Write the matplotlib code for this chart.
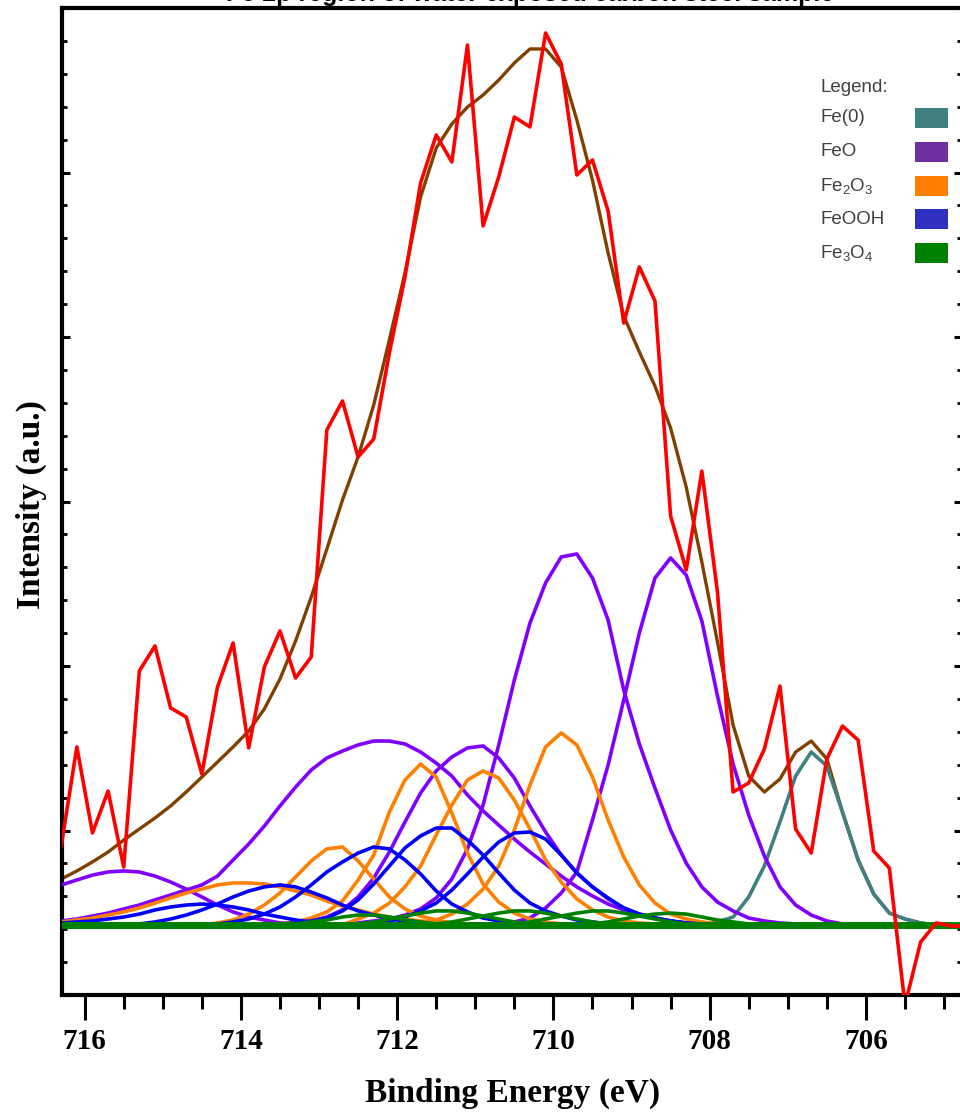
"""
Fe 2p XPS fit: raw spectrum, fit envelope and the Fe(0)/FeO/Fe2O3/FeOOH/Fe3O4 components.
Values read off the reference picture (0.2 eV sampling grid).
"""
import numpy as np
import matplotlib.pyplot as plt
from matplotlib.ticker import MultipleLocator
from matplotlib.patches import Rectangle

plt.rcParams.update({"mathtext.fontset": "custom", "mathtext.rm": "Liberation Sans",
                     "mathtext.it": "Liberation Sans:italic", "mathtext.bf": "Liberation Sans:bold"})

# binding-energy grid (eV)
energy = [716.3, 716.1, 715.9, 715.7, 715.5, 715.3, 715.1, 714.9, 714.7, 714.5,
          714.3, 714.1, 713.9, 713.7, 713.5, 713.3, 713.1, 712.9, 712.7, 712.5,
          712.3, 712.1, 711.9, 711.7, 711.5, 711.3, 711.1, 710.9, 710.7, 710.5,
          710.3, 710.1, 709.9, 709.7, 709.5, 709.3, 709.1, 708.9, 708.7, 708.5,
          708.3, 708.1, 707.9, 707.7, 707.5, 707.3, 707.1, 706.9, 706.7, 706.5,
          706.3, 706.1, 705.9, 705.7, 705.5, 705.3, 705.1, 704.9, 704.7]

raw = [906, 1508, 985, 1240, 778, 1970, 2122, 1745, 1690, 1343,
       1872, 2140, 1502, 1994, 2213, 1927, 2055, 3435, 3611, 3271,
       3380, 3903, 4365, 4936, 5228, 5064, 5775, 4675, 4973, 5337,
       5277, 5848, 5660, 4985, 5076, 4766, 4085, 4426, 4219, 2912,
       2584, 3185, 2450, 1234, 1289, 1495, 1878, 1009, 863, 1435,
       1635, 1550, 875, 772, -61, 322, 438, 419, 419]

envelope = [705, 754, 809, 869, 942, 1009, 1076, 1149, 1234, 1325,
            1416, 1508, 1605, 1739, 1921, 2152, 2419, 2711, 3009, 3271,
            3587, 3982, 4389, 4851, 5149, 5295, 5398, 5471, 5562, 5666,
            5751, 5751, 5641, 5319, 4954, 4511, 4128, 3909, 3702, 3447,
            3088, 2632, 2146, 1641, 1331, 1234, 1313, 1477, 1544, 1435,
            1112, 821, 614, 498, 462, 438, 426, 426, 426]

background = 426

# components: (first energy of the listed segment, values); background elsewhere
fe0 = [(708.1, [425, 444, 474, 596, 784, 1052, 1331, 1477, 1392, 1112, 821, 614, 498, 462, 438])]

feo = [(716.3, [669, 699, 729, 748, 754, 748, 723, 687, 644, 596, 547, 505, 474, 456, 438, 432]),
       (716.3, [450, 462, 480, 498, 523, 547, 578, 608, 638, 669, 723, 821, 918, 1027, 1149, 1264,
                1368, 1441, 1483, 1520, 1544, 1544, 1526, 1477, 1410, 1331, 1216, 1119, 1033, 948,
                869, 796, 723, 657, 602, 553, 517, 486, 468, 450, 438, 432]),
       (713.3, [432, 450, 474, 517, 596, 711, 869, 1052, 1228, 1362, 1447, 1502, 1514, 1441, 1319,
                1149, 991, 851, 742, 657, 584, 529, 492, 468, 450, 438, 432]),
       (712.7, [432, 438, 450, 462, 486, 523, 590, 705, 888, 1155, 1520, 1915, 2261, 2505, 2663,
                2681, 2535, 2280, 1854, 1526, 1258, 1003, 802, 657, 565, 511, 468, 450, 438, 432]),
       (710.5, [444, 468, 529, 620, 748, 1064, 1398, 1793, 2201, 2535, 2657, 2553, 2274, 1818, 1404,
                1094, 845, 657, 547, 486, 450, 432])]

fe2o3 = [(716.3, [444, 456, 468, 486, 505, 529, 559, 590, 620, 644, 669, 681, 681, 675, 657, 632,
                  608, 571, 541, 517, 492, 474, 462, 450, 444, 438, 432]),
         (714.3, [438, 456, 492, 547, 620, 717, 815, 888, 900, 815, 705, 596, 523, 480, 456, 438, 432]),
         (713.5, [432, 444, 468, 505, 571, 699, 851, 1112, 1307, 1404, 1325, 1106, 863, 675, 565,
                  498, 462, 444, 432]),
         (712.5, [462, 498, 559, 657, 784, 973, 1155, 1307, 1362, 1319, 1185, 1009, 821, 687, 584,
                  517, 474, 450, 438, 432]),
         (711.9, [432, 438, 456, 492, 553, 644, 784, 1003, 1277, 1508, 1593, 1520, 1325, 1064, 839,
                  669, 559, 492, 462, 444, 432])]

feooh = [(716.3, [438, 444, 450, 462, 474, 492, 517, 535, 547, 553, 547, 535, 517, 492, 474, 456, 444, 432]),
         (715.3, [432, 444, 462, 486, 517, 553, 596, 632, 657, 669, 657, 626, 590, 547, 511, 486,
                  462, 450, 438, 432]),
         (714.3, [432, 444, 462, 492, 535, 596, 669, 748, 809, 863, 900, 888, 821, 736, 632, 553,
                  505, 468, 450, 438, 432]),
         (713.5, [432, 438, 450, 468, 511, 578, 675, 784, 894, 967, 1015, 1015, 942, 851, 742, 638,
                  559, 511, 480, 456, 444, 432]),
         (712.5, [432, 438, 450, 474, 511, 559, 638, 736, 839, 930, 985, 991, 948, 851, 742, 657,
                  590, 529, 492, 468, 450, 438, 432])]

fe3o4 = [(713.3, [432, 444, 456, 474, 486, 486, 474, 456, 444, 432]),
         (712.5, [432, 444, 462, 480, 498, 511, 511, 498, 480, 462, 444, 432]),
         (711.5, [432, 444, 462, 480, 498, 511, 511, 498, 480, 462, 444, 432]),
         (710.5, [432, 444, 462, 480, 498, 511, 511, 498, 480, 462, 444, 432]),
         (709.5, [432, 444, 462, 480, 492, 498, 492, 474, 456, 444, 432])]

legend_labels = ["Fe(0)", "FeO", "Fe$_2$O$_3$", "FeOOH", "Fe$_3$O$_4$"]
legend_colors = ["#408080", "#7030a0", "#ff8000", "#3030c0", "#008000"]
line_colors = ["#408080", "#8000ff", "#ff8000", "#0000ff", "#008000"]

E = np.array(energy)


def component(start, vals):
    y = np.full(len(E), float(background))
    i0 = int(np.argmin(np.abs(E - start)))
    y[i0:i0 + len(vals)] = vals
    return y


W, H = 960, 1120
fig = plt.figure(figsize=(W / 100, H / 100), dpi=100)
ax = fig.add_axes([62 / W, 125 / H, 900 / W, 987 / H])

ax.plot(E, envelope, color="#804000", lw=2.4, zorder=2)
for comps, col in zip([fe0, feo, fe2o3, feooh], line_colors[:4]):
    for start, vals in comps:
        ax.plot(E, component(start, vals), color=col, lw=2.6, zorder=3)
for start, vals in fe3o4:
    ax.plot(E, component(start, vals), color=line_colors[4], lw=2.6, zorder=4)
ax.axhline(background, color=line_colors[4], lw=5, zorder=4)
ax.plot(E, raw, color="#ff0000", lw=2.6, zorder=5)

ax.set_xlim(716.29, 704.77)
ax.set_ylim(0, 6000)

for s in ax.spines.values():
    s.set_linewidth(3)
ax.xaxis.set_major_locator(MultipleLocator(2))
ax.xaxis.set_minor_locator(MultipleLocator(0.5))
ax.yaxis.set_major_locator(MultipleLocator(1000))
ax.yaxis.set_minor_locator(MultipleLocator(200))
ax.tick_params(axis="x", which="major", direction="out", length=18, width=2.2, pad=6, top=False)
ax.tick_params(axis="x", which="minor", direction="out", length=10, width=2.2, top=False)
ax.tick_params(axis="y", which="major", direction="in", length=6, width=2.2,
               left=True, right=True, labelleft=False)
ax.tick_params(axis="y", which="minor", direction="in", length=3.5, width=2,
               left=True, right=True)
for lab in ax.get_xticklabels():
    lab.set_fontfamily("Liberation Serif")
    lab.set_fontweight("bold")
    lab.set_fontsize(21)

ax.set_xlabel("Binding Energy (eV)", family="Liberation Serif", weight="bold", fontsize=24, va="center")
ax.xaxis.set_label_coords((513 - 62) / 900, -(1093 - 995) / 987)
ax.set_ylabel("Intensity (a.u.)", family="Liberation Serif", weight="bold", fontsize=24, va="center")
ax.yaxis.set_label_coords((31 - 62) / 900, (995 - 505) / 987)

# title sits almost entirely above the visible area, as in the source image
fig.text(530 / W, 1 - 1 / H, "Fe 2p region of water exposed carbon steel sample",
         ha="center", va="baseline", fontsize=18, fontweight="bold", family="Liberation Sans")

# legend block, text left and colour swatch right
fig.text(820 / W, 1 - 88 / H, "Legend:", ha="left", va="center", fontsize=13.5,
         family="Liberation Sans", color="#404040")
for k, (lab, col) in enumerate(zip(legend_labels, legend_colors)):
    yc = 118 + 33.8 * k
    fig.text(820 / W, 1 - yc / H, lab, ha="left", va="center", fontsize=13.5,
             family="Liberation Sans", color="#404040")
    fig.add_artist(Rectangle((915 / W, 1 - (yc + 10) / H), 33 / W, 20 / H,
                             transform=fig.transFigure, facecolor=col, edgecolor="none"))

fig.savefig("out.png", dpi=100)
